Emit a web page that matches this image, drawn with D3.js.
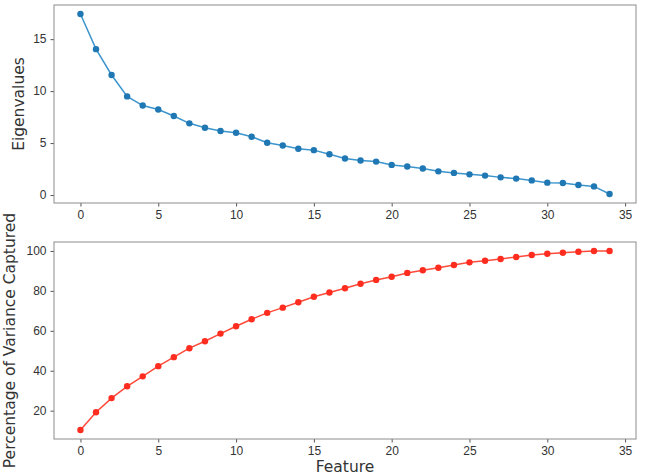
<!DOCTYPE html>
<html>
<head>
<meta charset="utf-8">
<script src="https://cdn.jsdelivr.net/npm/d3@7"></script>
<style>
  body { margin: 0; background: #fff; }
  svg { display: block; font-family: "DejaVu Sans", sans-serif; }
  .domain { stroke: none; }
  .tick line { stroke: #555; }
  .tick text { fill: #333; font-size: 12px; }
</style>
</head>
<body>
<div id="chart"></div>
<script>
// feature index 0..34
var features = d3.range(35);
var eigenvalues = [17.42, 14.04, 11.55, 9.49, 8.61, 8.23, 7.61, 6.90, 6.48, 6.16,
                   6.00, 5.61, 5.03, 4.77, 4.45, 4.32, 3.93, 3.51, 3.32, 3.22,
                   2.90, 2.74, 2.55, 2.28, 2.13, 1.99, 1.87, 1.70, 1.58, 1.41,
                   1.19, 1.16, 0.97, 0.83, 0.10];
var variancePct = [10.3, 19.2, 26.3, 32.2, 37.2, 42.3, 46.8, 51.3, 54.8, 58.6,
                   62.3, 65.8, 69.0, 71.6, 74.3, 77.1, 79.2, 81.3, 83.6, 85.5,
                   87.1, 89.0, 90.3, 91.6, 93.0, 94.3, 95.1, 96.0, 97.0, 98.0,
                   98.6, 99.1, 99.6, 100.0, 100.0];
var xTicks = [0, 5, 10, 15, 20, 25, 30, 35];
var eigTicks = [0, 5, 10, 15];
var pctTicks = [20, 40, 60, 80, 100];

var width = 646, height = 476;
var left = 54, right = 636;

var svg = d3.select("#chart").append("svg")
  .attr("width", width).attr("height", height);

// matplotlib style 5% margins
function padded(vals) {
  var lo = d3.min(vals), hi = d3.max(vals), m = (hi - lo) * 0.05;
  return [lo - m, hi + m];
}

var x = d3.scaleLinear().domain(padded(features)).range([left, right]);

function panel(top, bottom, values, ticks, lineColor, dotColor, ylabel, ylabelX) {
  var y = d3.scaleLinear().domain(padded(values)).range([bottom, top]);
  var g = svg.append("g");

  g.append("g").attr("transform", "translate(0," + bottom + ")")
    .call(d3.axisBottom(x).tickValues(xTicks).tickSizeInner(3.5).tickSizeOuter(0).tickPadding(4).tickFormat(d3.format("d")));
  g.append("g").attr("transform", "translate(" + left + ",0)")
    .call(d3.axisLeft(y).tickValues(ticks).tickSizeInner(3.5).tickSizeOuter(0).tickPadding(4).tickFormat(d3.format("d")));

  g.append("rect")
    .attr("x", left).attr("y", top)
    .attr("width", right - left).attr("height", bottom - top)
    .attr("fill", "none").attr("stroke", "#8c8c8c").attr("stroke-width", 1);

  var line = d3.line().x(function(d, i) { return x(features[i]); }).y(function(d) { return y(d); });
  g.append("path").datum(values)
    .attr("d", line).attr("fill", "none")
    .attr("stroke", lineColor).attr("stroke-width", 1.5);

  g.selectAll(".dot").data(values).enter().append("circle")
    .attr("cx", function(d, i) { return x(features[i]); })
    .attr("cy", function(d) { return y(d); })
    .attr("r", 3.2)
    .attr("fill", dotColor);

  g.append("text")
    .attr("transform", "translate(" + ylabelX + "," + ((top + bottom) / 2) + ") rotate(-90)")
    .attr("text-anchor", "middle")
    .attr("dominant-baseline", "central")
    .attr("font-size", 15.5).attr("fill", "#333")
    .text(ylabel);
}

panel(5, 203, eigenvalues, eigTicks, "#3c95cc", "#1f77b4", "Eigenvalues", 19);
panel(242, 439, variancePct, pctTicks, "#ff4a3a", "#ff2d1f", "Percentage of Variance Captured", 10);

svg.append("text")
  .attr("x", (left + right) / 2).attr("y", 472)
  .attr("text-anchor", "middle")
  .attr("font-size", 15.5).attr("fill", "#333")
  .text("Feature");
</script>
</body>
</html>
